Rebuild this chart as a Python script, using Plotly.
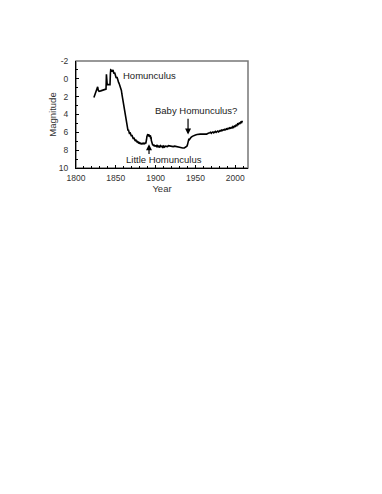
import plotly.graph_objects as go

# Eta Carinae historical light curve
years = [1822.5, 1823.5, 1825, 1826.5, 1827.2, 1828, 1829, 1831, 1833, 1835, 1837, 1837.7,
         1838.2, 1838.6, 1839.2, 1840, 1841.5, 1842.7, 1843.2, 1843.6, 1844.5, 1845.5,
         1846.5, 1847.5, 1848.5, 1849.5, 1850.5, 1851.5, 1852.5, 1853.5, 1854.5, 1855.5,
         1856.3, 1857, 1857.6, 1858.2, 1858.8, 1859.3, 1859.8, 1860.3, 1860.8, 1861.3,
         1861.8, 1862.3, 1862.8, 1863.3, 1863.8, 1864.3, 1864.8, 1865.3, 1865.8, 1866.3,
         1866.8, 1867.3, 1867.8, 1868.4, 1869, 1869.6, 1870.2, 1870.8, 1871.4, 1872,
         1872.6, 1873.2, 1873.8, 1874.4, 1875, 1875.6, 1876.2, 1876.8, 1877.4, 1878,
         1878.6, 1879.2, 1879.8, 1880.4, 1881, 1881.6, 1882.2, 1882.8, 1883.4, 1884,
         1884.6, 1885.2, 1885.8, 1886.4, 1887, 1887.6, 1888.2, 1888.6, 1889, 1889.4,
         1889.8, 1890.2, 1890.6, 1891, 1891.4, 1891.8, 1892.2, 1892.6, 1893, 1893.4,
         1893.8, 1894.2, 1894.6, 1895, 1895.4, 1895.8, 1896.4, 1897, 1897.6, 1898.2,
         1898.8, 1899.4, 1900, 1900.8, 1901.6, 1902.4, 1903.2, 1904, 1905, 1906, 1907,
         1908, 1909, 1910, 1911, 1912, 1914, 1915, 1916, 1918, 1920, 1922, 1924, 1926,
         1928, 1930, 1932, 1934, 1936, 1937.5, 1938.5, 1939.3, 1940, 1940.6, 1941.2,
         1941.8, 1942.5, 1943.5, 1944.5, 1946, 1948, 1950, 1952, 1954, 1956, 1958, 1960,
         1962, 1964, 1966, 1967, 1968, 1969, 1970, 1971, 1972, 1973, 1974, 1975, 1976,
         1977, 1978, 1979, 1980, 1981, 1982, 1983, 1984, 1985, 1986, 1987, 1988, 1989,
         1990, 1991, 1992, 1993, 1994, 1995, 1996, 1997, 1998, 1999, 2000, 2001, 2002,
         2003, 2004, 2005, 2006, 2007, 2008, 2009]
mags = [2.1, 1.8, 1.4, 1.0, 0.9, 1.3, 1.4, 1.35, 1.3, 1.25, 1.2, 1.15,
        -0.5, 0.2, 0.65, 0.65, 0.65, 0.65, -0.6, -1.0, -0.95, -0.8,
        -1.0, -0.6, -0.7, -0.4, -0.1, -0.2, 0.2, 0.4, 0.6, 0.8,
        1.0, 1.3, 1.7, 2.0, 2.3, 2.6, 2.9, 3.2, 3.4, 3.8,
        4.0, 4.4, 4.6, 5.0, 5.1, 5.4, 5.5, 5.8, 5.7, 6.0,
        5.9, 6.2, 6.0, 6.3, 6.2, 6.45, 6.3, 6.6, 6.45, 6.75,
        6.6, 6.85, 6.7, 6.95, 6.8, 7.05, 6.9, 7.15, 7.0, 7.2,
        7.05, 7.3, 7.1, 7.3, 7.15, 7.35, 7.2, 7.35, 7.2, 7.3,
        7.15, 7.35, 7.2, 7.3, 7.15, 7.25, 7.1, 6.8, 6.5, 6.3,
        6.5, 6.2, 6.4, 6.2, 6.45, 6.25, 6.5, 6.3, 6.55, 6.35,
        6.7, 6.5, 6.9, 7.1, 7.3, 7.2, 7.45, 7.35, 7.55, 7.4,
        7.6, 7.45, 7.6, 7.5, 7.65, 7.5, 7.6, 7.55, 7.7, 7.5, 7.6,
        7.55, 7.75, 7.55, 7.65, 7.55, 7.6, 7.6, 7.5, 7.55, 7.6, 7.6, 7.55, 7.6,
        7.65, 7.65, 7.7, 7.75, 7.75, 7.7, 7.65, 7.55, 7.4, 7.1, 6.85,
        6.7, 6.8, 6.65, 6.55, 6.45, 6.35, 6.3, 6.25, 6.2, 6.2, 6.2, 6.2,
        6.15, 6.2, 6.1, 6.1, 6.05, 6.0, 6.1, 6.0, 5.95, 6.05, 5.95, 5.9, 6.0,
        5.9, 5.85, 5.95, 5.85, 5.8, 5.85, 5.75, 5.8, 5.7, 5.75, 5.65, 5.7, 5.6,
        5.65, 5.55, 5.6, 5.5, 5.55, 5.45, 5.5, 5.35, 5.45, 5.3, 5.35, 5.2, 5.25,
        5.05, 5.1, 4.95, 5.0, 4.85, 4.9, 4.7, 5.0]

mag_ticks = [-2, 0, 2, 4, 6, 8, 10]
mag_labels = ["-2", "0", "2", "4", "6", "8", "10"]
year_ticks = [1800, 1850, 1900, 1950, 2000]

fig = go.Figure()
fig.add_trace(go.Scatter(x=years, y=mags, mode="lines",
                         line=dict(color="black", width=1.6), showlegend=False))

fam = "Liberation Sans Narrow, Arial Narrow, Liberation Sans"
txt = dict(family=fam, size=9.5, color="#222")
fig.add_annotation(x=1856.5, y=-0.35, text="Homunculus", showarrow=False,
                   xanchor="left", font=txt)
fig.add_annotation(x=1940.7, y=6.25, ax=1940.7, ay=4.3, axref="x", ayref="y",
                   text="", showarrow=True, arrowhead=2, arrowsize=1, arrowwidth=1.2,
                   arrowcolor="black")
fig.add_annotation(x=1950.5, y=3.6, text="Baby Homunculus?", showarrow=False, font=txt)
fig.add_annotation(x=1891.7, y=7.35, ax=1891.7, ay=8.6, axref="x", ayref="y",
                   text="", showarrow=True, arrowhead=2, arrowsize=1, arrowwidth=1.2,
                   arrowcolor="black")
fig.add_annotation(x=1910, y=9.05, text="Little Homunculus", showarrow=False, font=txt)

tickfont = dict(family=fam, size=8.5, color="#333")
# the page body adds 8px, so the margins are shifted by that much
fig.update_layout(
    width=382, height=494,
    margin=dict(l=68, r=142, t=53, b=334),
    plot_bgcolor="white", paper_bgcolor="white",
    font=tickfont,
    xaxis=dict(range=[1800, 2016], tickvals=year_ticks,
               ticks="inside", ticklen=3, tickcolor="black", ticklabelstandoff=2,
               minor=dict(dtick=10, tick0=1800, ticks="inside", ticklen=2, tickcolor="black"),
               showgrid=False, zeroline=False, showline=True, linecolor="black", linewidth=1,
               tickfont=tickfont,
               title=dict(text="Year", font=dict(family=fam, size=9.5, color="#333"), standoff=2)),
    yaxis=dict(range=[10, -2], tickvals=mag_ticks, ticktext=mag_labels,
               ticks="inside", ticklen=3, tickcolor="black", ticklabelstandoff=5,
               minor=dict(dtick=1, tick0=0, ticks="inside", ticklen=2, tickcolor="black"),
               showgrid=False, zeroline=False, showline=True, linecolor="black", linewidth=1,
               tickfont=tickfont,
               title=dict(text="Magnitude", font=dict(family=fam, size=9.5, color="#333"), standoff=0)),
    shapes=[dict(type="rect", xref="paper", yref="paper", x0=0, y0=0, x1=1, y1=1,
                 line=dict(color="#777", width=1.5), layer="below")],
)

fig.write_html("out.html")
